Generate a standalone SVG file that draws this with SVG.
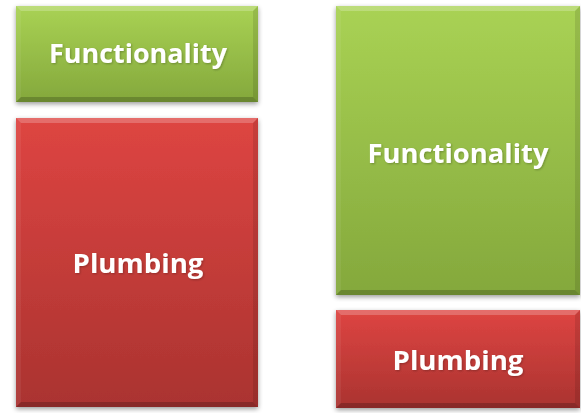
<svg xmlns="http://www.w3.org/2000/svg" width="581" height="413" viewBox="0 0 581 413">
<defs>
<linearGradient id="gGreen" x1="0" y1="0" x2="0" y2="1">
<stop offset="0" stop-color="#a9d254"/>
<stop offset="1" stop-color="#84a83c"/>
</linearGradient>
<linearGradient id="gRed" x1="0" y1="0" x2="0" y2="1">
<stop offset="0" stop-color="#de4542"/>
<stop offset="1" stop-color="#aa3330"/>
</linearGradient>
<filter id="shadow" x="-10%" y="-10%" width="120%" height="120%">
<feGaussianBlur in="SourceAlpha" stdDeviation="2.5"/>
<feOffset dx="0" dy="2" result="b"/>
<feComponentTransfer><feFuncA type="linear" slope="0.4"/></feComponentTransfer>
<feMerge><feMergeNode/><feMergeNode in="SourceGraphic"/></feMerge>
</filter>
<filter id="tshadow" x="-10%" y="-20%" width="120%" height="140%">
<feGaussianBlur in="SourceAlpha" stdDeviation="0.8"/>
<feOffset dx="1" dy="1"/>
<feComponentTransfer><feFuncA type="linear" slope="0.25"/></feComponentTransfer>
<feMerge><feMergeNode/><feMergeNode in="SourceGraphic"/></feMerge>
</filter>
</defs>
<style>
.lbl{font-family:"Open Sans","Liberation Sans",sans-serif;font-weight:bold;font-size:27px;fill:#ffffff;text-anchor:middle;filter:url(#tshadow)}
.top{fill:#ffffff;fill-opacity:0.22}
.left{fill:#ffffff;fill-opacity:0.06}
.right{fill:#000000;fill-opacity:0.1}
.bot{fill:#000000;fill-opacity:0.2}
</style>
<g id="func-left">
<rect x="16" y="6" width="242" height="96" fill="url(#gGreen)" filter="url(#shadow)"/>
<polygon class="top" points="16,6 258,6 253,11 21,11"/>
<polygon class="left" points="16,6 21,11 21,97 16,102"/>
<polygon class="right" points="258,6 258,102 253,97 253,11"/>
<polygon class="bot" points="16,102 21,97 253,97 258,102"/>
<text class="lbl" x="138" y="63" textLength="178" lengthAdjust="spacingAndGlyphs">Functionality</text>
</g>
<g id="plumb-left">
<rect x="16" y="118" width="242" height="289" fill="url(#gRed)" filter="url(#shadow)"/>
<polygon class="top" points="16,118 258,118 253,123 21,123"/>
<polygon class="left" points="16,118 21,123 21,402 16,407"/>
<polygon class="right" points="258,118 258,407 253,402 253,123"/>
<polygon class="bot" points="16,407 21,402 253,402 258,407"/>
<text class="lbl" x="138" y="273" textLength="131" lengthAdjust="spacingAndGlyphs">Plumbing</text>
</g>
<g id="func-right">
<rect x="336" y="6" width="244" height="289" fill="url(#gGreen)" filter="url(#shadow)"/>
<polygon class="top" points="336,6 580,6 575,11 341,11"/>
<polygon class="left" points="336,6 341,11 341,290 336,295"/>
<polygon class="right" points="580,6 580,295 575,290 575,11"/>
<polygon class="bot" points="336,295 341,290 575,290 580,295"/>
<text class="lbl" x="458" y="163" textLength="181" lengthAdjust="spacingAndGlyphs">Functionality</text>
</g>
<g id="plumb-right">
<rect x="336" y="310" width="244" height="98" fill="url(#gRed)" filter="url(#shadow)"/>
<polygon class="top" points="336,310 580,310 575,315 341,315"/>
<polygon class="left" points="336,310 341,315 341,403 336,408"/>
<polygon class="right" points="580,310 580,408 575,403 575,315"/>
<polygon class="bot" points="336,408 341,403 575,403 580,408"/>
<text class="lbl" x="458" y="370" textLength="131" lengthAdjust="spacingAndGlyphs">Plumbing</text>
</g>
<g id="connectors"/>
</svg>
